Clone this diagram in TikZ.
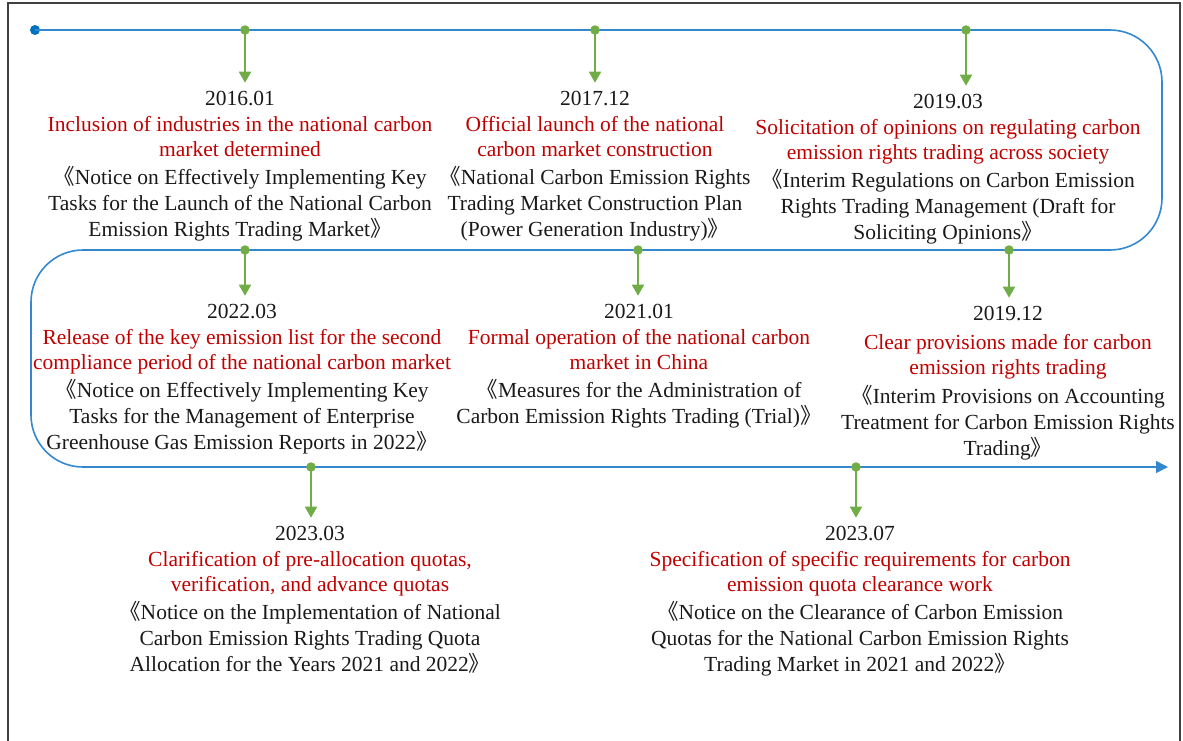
\documentclass[tikz,border=0pt]{standalone}
\usepackage{fontspec}
\setmainfont{Liberation Serif}
\newfontfamily\cjk{Noto Sans CJK SC}
\usetikzlibrary{arrows.meta}
\definecolor{tlblue}{RGB}{52,136,208}
\definecolor{dotblue}{RGB}{0,112,192}
\definecolor{evgreen}{RGB}{112,173,71}
\definecolor{evred}{RGB}{192,0,0}
\definecolor{evblack}{RGB}{25,25,25}
\newcommand{\bkl}{{\cjk 《}}
\newcommand{\bkr}{{\cjk 》}}
\newcommand{\rd}[1]{\textcolor{evred}{#1}}
\begin{document}
\begin{tikzpicture}[x=1pt,y=-1pt,
  ev/.style={anchor=north,inner sep=0pt,align=center,text=evblack,
    font=\fontsize{21.5}{25.8}\selectfont},
  gdot/.style={circle,fill=evgreen,inner sep=0pt,minimum size=9.5pt},
  bdot/.style={circle,fill=dotblue,inner sep=0pt,minimum size=10pt},
  garrow/.style={draw=evgreen,line width=1.8pt,-{Triangle[width=12pt,length=11pt]},shorten >=8pt},
  tl/.style={draw=tlblue,line width=1.6pt,rounded corners=52pt}]
\useasboundingbox (0,0) rectangle (1183,740);
\draw[draw=black!75,line width=1.5pt] (8,745) -- (8,3) -- (1180,3) -- (1180,745);

% timeline
\node[bdot] (s) at (35,30) {};
\coordinate (tend) at (1168,467);
\draw[tl,-{Triangle[width=12pt,length=12pt]}] (s.center) -- (1162,30) -- (1162,250) -- (31,250) -- (31,467) -- (tend);

% dots on timeline
\node[gdot] (p1) at (245,30) {};
\node[gdot] (p2) at (595,30) {};
\node[gdot] (p3) at (966,30) {};
\node[gdot] (p4) at (245,250) {};
\node[gdot] (p5) at (638,250) {};
\node[gdot] (p6) at (1009,250) {};
\node[gdot] (p7) at (311,467) {};
\node[gdot] (p8) at (856,467) {};

% events
\node[ev] (e1) at (240,90.7) {2016.01\\
\rd{Inclusion of industries in the national carbon}\\
\rd{market determined}\\[2pt]
\bkl Notice on Effectively Implementing Key\\
Tasks for the Launch of the National Carbon\\
Emission Rights Trading Market\bkr};

\node[ev] (e2) at (595,90.7) {2017.12\\
\rd{Official launch of the national}\\
\rd{carbon market construction}\\[2pt]
\bkl National Carbon Emission Rights\\
Trading Market Construction Plan\\
(Power Generation Industry)\bkr};

\node[ev] (e3) at (948,93.7) {2019.03\\
\rd{Solicitation of opinions on regulating carbon}\\
\rd{emission rights trading across society}\\[2pt]
\bkl Interim Regulations on Carbon Emission\\
Rights Trading Management (Draft for\\
Soliciting Opinions\bkr};

\node[ev] (e4) at (242,303.7) {2022.03\\
\rd{Release of the key emission list for the second}\\
\rd{compliance period of the national carbon market}\\[2pt]
\bkl Notice on Effectively Implementing Key\\
Tasks for the Management of Enterprise\\
Greenhouse Gas Emission Reports in 2022\bkr};

\node[ev] (e5) at (639,303.7) {2021.01\\
\rd{Formal operation of the national carbon}\\
\rd{market in China}\\[2pt]
\bkl Measures for the Administration of\\
Carbon Emission Rights Trading (Trial)\bkr};

\node[ev] (e6) at (1008,305.7) {2019.12\\[3pt]
\rd{Clear provisions made for carbon}\\
\rd{emission rights trading}\\[3pt]
\bkl Interim Provisions on Accounting\\
Treatment for Carbon Emission Rights\\
Trading\bkr};

\node[ev] (e7) at (310,525.7) {2023.03\\
\rd{Clarification of pre-allocation quotas,}\\
\rd{verification, and advance quotas}\\[2pt]
\bkl Notice on the Implementation of National\\
Carbon Emission Rights Trading Quota\\
Allocation for the Years 2021 and 2022\bkr};

\node[ev] (e8) at (860,525.7) {2023.07\\
\rd{Specification of specific requirements for carbon}\\
\rd{emission quota clearance work}\\[2pt]
\bkl Notice on the Clearance of Carbon Emission\\
Quotas for the National Carbon Emission Rights\\
Trading Market in 2021 and 2022\bkr};

% connectors
\foreach \i in {1,...,8} {
  \draw[garrow] (p\i.center) -- (p\i |- e\i.north);
}
\end{tikzpicture}
\end{document}
